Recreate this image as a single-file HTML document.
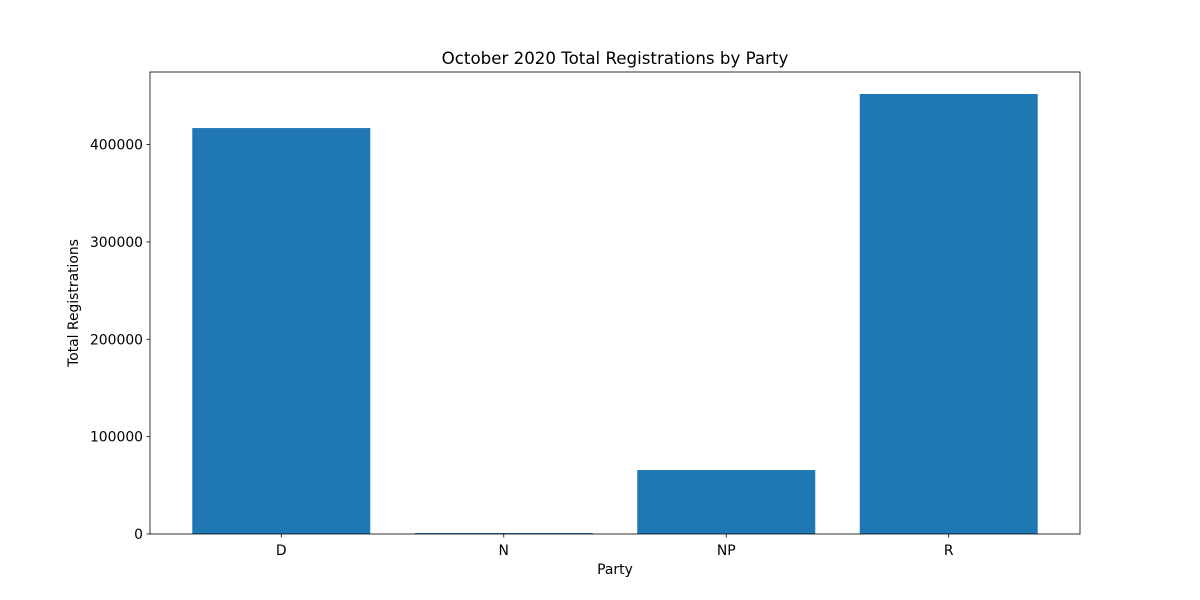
<!DOCTYPE html>
<html><head><meta charset="utf-8"><style>body{margin:0;background:#fff}svg{display:block;font-family:"DejaVu Sans","Liberation Sans",sans-serif}</style></head>
<body>
<svg id="chart" width="1200" height="600" xmlns="http://www.w3.org/2000/svg">
<rect width="1200" height="600" fill="#fff"/>
<text x="615" y="64" text-anchor="middle" font-size="16.67">October 2020 Total Registrations by Party</text>
<g id="bars"></g>
<g id="axes"></g>
<rect x="150" y="72" width="930" height="462" fill="none" stroke="#000" stroke-width="0.8"/>
<text x="615" y="574" text-anchor="middle" font-size="13.9">Party</text>
<text transform="translate(78,303) rotate(-90)" text-anchor="middle" font-size="13.9">Total Registrations</text>
</svg>
<script>
const categories = ["D","N","NP","R"];
const values = [417000, 1000, 65700, 452000];
const yTicks = [0,100000,200000,300000,400000];
const ns="http://www.w3.org/2000/svg";
const L=150,R=1080,T=72,B=534;
const ymax=Math.max(...values)*1.05;
const xmin=-0.59,xmax=categories.length-1+0.59;
const x=v=>L+(v-xmin)/(xmax-xmin)*(R-L);
const y=v=>B-v/ymax*(B-T);
const bw=0.8*(R-L)/(xmax-xmin);
const gb=document.getElementById('bars'),ga=document.getElementById('axes');
function mk(tag,attrs,parent){const e=document.createElementNS(ns,tag);for(const k in attrs)e.setAttribute(k,attrs[k]);parent.appendChild(e);return e;}
categories.forEach((c,i)=>{
 const r=mk('rect',{x:x(i)-bw/2,y:y(values[i]),width:bw,height:B-y(values[i]),fill:'#1f77b4'},gb);
 
 
 const t=mk('line',{x1:x(i),x2:x(i),y1:B,y2:B+3.5,stroke:'#000','stroke-width':0.8},ga);
 
 
 const l=mk('text',{x:x(i),y:B+21,'text-anchor':'middle','font-size':13.9},ga);
 l.textContent=c;
 
 
});
yTicks.forEach(v=>{
 const t=mk('line',{x1:L-3.5,x2:L,y1:y(v),y2:y(v),stroke:'#000','stroke-width':0.8},ga);
 
 
 const l=mk('text',{x:L-7,y:y(v)+5,'text-anchor':'end','font-size':13.9},ga);
 l.textContent=String(v);
 
 
});
</script>
</body></html>
